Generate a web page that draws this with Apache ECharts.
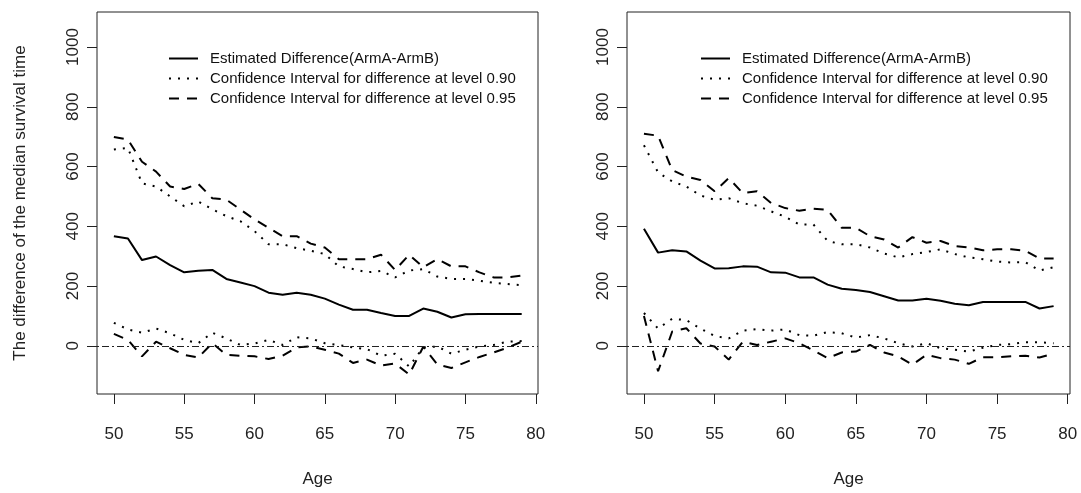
<!DOCTYPE html>
<html>
<head>
<meta charset="utf-8">
<script src="https://cdn.jsdelivr.net/npm/echarts@6/dist/echarts.min.js"></script>
<style>
  html, body { margin: 0; padding: 0; background: #fff; }
  #chart { width: 1081px; height: 493px; }
</style>
</head>
<body>
<div id="chart"></div>
<script>
  // ages on the x axis
  var ages = [50, 51, 52, 53, 54, 55, 56, 57, 58, 59, 60, 61, 62, 63, 64,
              65, 66, 67, 68, 69, 70, 71, 72, 73, 74, 75, 76, 77, 78, 79];
  var xTicks = [50, 55, 60, 65, 70, 75, 80];
  var yTicks = [0, 200, 400, 600, 800, 1000];

  var nameEst = 'Estimated Difference(ArmA-ArmB)';
  var name90 = 'Confidence Interval for difference at level 0.90';
  var name95 = 'Confidence Interval for difference at level 0.95';

  // left panel
  var estLeft = [367, 359, 287, 299, 270, 246, 251, 254, 224, 212, 200, 178, 171, 178, 171,
                 158, 138, 121, 121, 110, 100, 100, 125, 114, 95, 106, 107, 107, 107, 107];
  var up90Left = [657, 662, 544, 533, 500, 467, 483, 457, 434, 417, 384, 340, 340, 327, 318,
                  307, 266, 257, 246, 251, 229, 252, 257, 232, 224, 224, 218, 211, 207, 203];
  var up95Left = [699, 690, 616, 583, 533, 525, 542, 494, 489, 456, 423, 395, 367, 367, 342,
                  329, 290, 290, 290, 305, 254, 305, 263, 290, 266, 266, 246, 229, 229, 235];
  var lo90Left = [77, 55, 44, 58, 42, 20, 9, 44, 25, 3, 8, 20, 3, 29, 25,
                  9, 3, -5, -11, -33, -26, -69, -5, -2, -26, -13, -2, 3, 14, 16];
  var lo95Left = [40, 20, -35, 14, -8, -30, -39, 9, -30, -33, -35, -44, -33, -5, -2,
                  -13, -26, -57, -46, -66, -59, -96, -3, -62, -74, -55, -37, -22, -6, 14];

  // right panel
  var estRight = [392, 312, 320, 316, 285, 259, 260, 266, 265, 246, 245, 229, 229, 205, 191,
                  187, 180, 166, 152, 152, 158, 151, 141, 136, 147, 147, 147, 147, 125, 133];
  var up90Right = [671, 580, 550, 533, 503, 489, 494, 477, 469, 450, 432, 406, 406, 351, 340,
                   340, 329, 309, 296, 307, 314, 323, 307, 296, 290, 282, 279, 280, 252, 263];
  var up95Right = [710, 703, 588, 566, 555, 517, 561, 511, 517, 478, 461, 452, 459, 455, 395,
                   395, 367, 356, 329, 364, 345, 351, 334, 329, 320, 323, 323, 318, 292, 292];
  var lo90Right = [110, 58, 91, 86, 58, 33, 25, 51, 56, 51, 55, 36, 34, 46, 42,
                   28, 36, 25, 9, -2, 9, -8, -13, -19, -6, 3, 6, 12, 12, 9];
  var lo95Right = [100, -85, 48, 59, 8, -2, -46, 14, 3, 14, 25, 9, -15, -41, -22,
                   -19, 3, -22, -35, -63, -30, -41, -46, -60, -38, -38, -35, -33, -39, -26];

  var font = 'Arial, "Liberation Sans", sans-serif';
  var ink = '#111';
  var dashed = [10, 8];
  var dotted = [2, 7];

  function pairs(vals) {
    return ages.map(function(a, i) { return [a, vals[i]]; });
  }

  function line(name, vals, idx, type, withZero) {
    var s = {
      name: name,
      type: 'line',
      xAxisIndex: idx,
      yAxisIndex: idx,
      symbol: 'none',
      silent: true,
      color: '#000',
      itemStyle: { color: '#000' },
      lineStyle: { color: '#000', width: 2, type: type, cap: 'butt' },
      data: pairs(vals)
    };
    if (withZero) {
      // horizontal reference line at 0
      s.markLine = {
        silent: true,
        symbol: 'none',
        label: { show: false },
        lineStyle: { color: '#222', width: 1, type: [2, 3, 7, 3] },
        data: [{ yAxis: 0 }]
      };
    }
    return s;
  }

  function xAxis(idx) {
    return {
      type: 'value',
      gridIndex: idx,
      min: 48.8,
      max: 80.16,
      name: 'Age',
      nameLocation: 'middle',
      nameGap: 77,
      nameTextStyle: { fontFamily: font, fontSize: 17, color: '#222' },
      axisLine: { show: false, onZero: false },
      axisTick: { show: true, inside: false, length: 10, customValues: xTicks,
                  lineStyle: { color: '#222', width: 1 } },
      axisLabel: { customValues: xTicks, margin: 32, fontFamily: font, fontSize: 17, color: '#222',
                   formatter: function(v) { return String(v); } },
      splitLine: { show: false }
    };
  }

  function yAxis(idx) {
    return {
      type: 'value',
      gridIndex: idx,
      min: -161,
      max: 1117,
      name: idx === 0 ? 'The difference of the median survival time' : '',
      nameLocation: 'middle',
      nameGap: 68,
      nameTextStyle: { fontFamily: font, fontSize: 17, color: '#222' },
      axisLine: { show: false, onZero: false },
      axisTick: { show: true, inside: false, length: 10, customValues: yTicks,
                  lineStyle: { color: '#222', width: 1 } },
      axisLabel: { customValues: yTicks, rotate: 90, margin: 15, fontFamily: font, fontSize: 17, color: '#222',
                   formatter: function(v) { return String(v); } },
      splitLine: { show: false }
    };
  }

  function legend(left) {
    return {
      left: left,
      top: 51,
      padding: 0,
      orient: 'vertical',
      itemWidth: 29,
      itemHeight: 14,
      itemGap: 5,
      selectedMode: false,
      itemStyle: { opacity: 0 },
      data: [nameEst, name90, name95],
      textStyle: { fontFamily: font, fontSize: 15, color: ink, padding: [0, 0, 0, 7] }
    };
  }

  var chart = echarts.init(document.getElementById('chart'), null, { renderer: 'canvas' });
  chart.setOption({
    animation: false,
    backgroundColor: '#fff',
    legend: [legend(168), legend(700)],
    grid: [
      { left: 97, top: 12, width: 441, height: 386, show: true, borderColor: '#222', borderWidth: 1 },
      { left: 627, top: 12, width: 443, height: 386, show: true, borderColor: '#222', borderWidth: 1 }
    ],
    xAxis: [xAxis(0), xAxis(1)],
    yAxis: [yAxis(0), yAxis(1)],
    series: [
      line(nameEst, estLeft, 0, 'solid', true),
      line(name90, up90Left, 0, dotted),
      line(name90, lo90Left, 0, dotted),
      line(name95, up95Left, 0, dashed),
      line(name95, lo95Left, 0, dashed),
      line(nameEst, estRight, 1, 'solid', true),
      line(name90, up90Right, 1, dotted),
      line(name90, lo90Right, 1, dotted),
      line(name95, up95Right, 1, dashed),
      line(name95, lo95Right, 1, dashed)
    ]
  });
</script>
</body>
</html>
